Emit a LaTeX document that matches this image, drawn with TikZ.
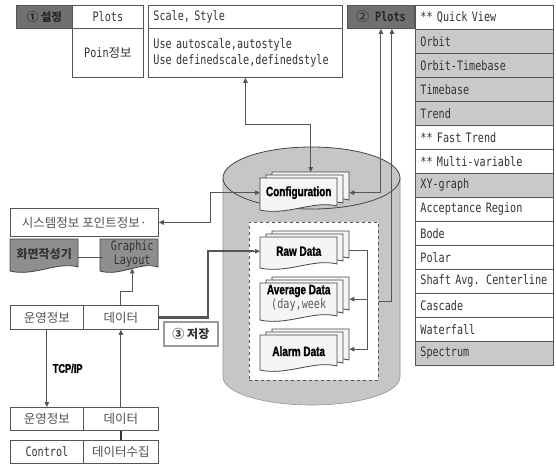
\documentclass[tikz,border=0pt]{standalone}
\usepackage{fontspec}
\setmainfont{DejaVu Sans}
\newfontfamily\kr{Noto Sans CJK KR}
\newfontfamily\monof{DejaVu Sans Mono}[FakeStretch=0.78]
\newfontfamily\headf{Liberation Sans}[FakeStretch=0.74,BoldFeatures={FakeBold=1.2}]
\usetikzlibrary{calc,arrows.meta}

\definecolor{ink}{HTML}{333333}
\definecolor{edge}{HTML}{555555}
\definecolor{darkcell}{HTML}{707070}
\definecolor{shade}{HTML}{C9C9C9}
\definecolor{cyl}{HTML}{C6C6C6}
\definecolor{docdark}{HTML}{8E8E8E}
\definecolor{paper}{HTML}{F5F5F5}

% rectangular cell from (x1,y1) to (x2,y2); options and text follow the call
\newcommand\boxat[5]{\node[cell,minimum width={(#4)-(#2)},minimum height={(#5)-(#3)},anchor=north west] (#1) at ({#2},{#3})}

% sheet with a wavy lower edge; the node stays open for options and text
\newcommand\sheet[6]{%
  \path[#6] ({#2},{#3}) -- ({(#2)+(#4)},{#3}) -- ({(#2)+(#4)},{(#3)+(#5)-5})
    .. controls ({(#2)+0.7*(#4)},{(#3)+(#5)-11}) and ({(#2)+0.35*(#4)},{(#3)+(#5)+5}) .. ({#2},{(#3)+(#5)-1}) -- cycle;
  \node[inner sep=0pt,minimum width={#4},minimum height={(#5)-4},anchor=north west,align=center] (#1) at ({#2},{#3})}

% three stacked sheets
\newcommand\docstack[5]{%
  \sheet{#1-b}{(#2)+12}{(#3)-6}{#4}{#5}{docsheet}{};
  \sheet{#1-m}{(#2)+6}{(#3)-3}{#4}{#5}{docsheet}{};
  \sheet{#1}{#2}{#3}{#4}{#5}{docsheet}}

\begin{document}
\begin{tikzpicture}[x=1pt,y=-1pt,
  >={Triangle[length=5pt,width=4.5pt]},
  cell/.style={draw=edge,line width=0.8pt,inner sep=0pt,fill=white,
    font=\monof\fontsize{13}{16}\selectfont,text=ink},
  darkc/.style={fill=darkcell},
  lefttext/.style={text width=#1,align=left,inner xsep=5pt},
  krtext/.style={font=\kr\fontsize{12.5}{14}\selectfont,text=ink!85},
  docsheet/.style={fill=paper,draw=edge!80!black,line width=0.8pt},
  docdarkfill/.style={fill=docdark,draw=edge!80!black,line width=0.8pt},
  doclabel/.style={font=\headf\bfseries\fontsize{13.5}{13.5}\selectfont,text=black},
  conn/.style={draw=edge,line width=1pt},
  thickconn/.style={draw=edge,line width=2.2pt},
  savebox/.style={draw=black!40,line width=1.8pt,fill=white,
    font=\kr\bfseries\fontsize{12}{14}\selectfont,text=ink}]

\useasboundingbox[fill=white] (0,0) rectangle (556,464);

% ---- settings table
\boxat{set}{16}{5}{72}{28}[darkc,font=\kr\bfseries\fontsize{11.5}{13}\selectfont,text=black!85]{① 설정};
\boxat{plotsh}{72}{5}{143}{28}{Plots};
\boxat{poin}{72}{28}{143}{77}{Poin{\kr\fontsize{12.5}{14}\selectfont 정보}};
\boxat{scale}{148}{5}{342}{28}[lefttext=184]{Scale, Style};
\boxat{vals}{148}{28}{342}{77}[lefttext=184]{Use autoscale,autostyle\\Use definedscale,definedstyle};

% ---- plot list
\boxat{plots}{347}{5}{414}{28}[darkc,font=\monof\bfseries\fontsize{13}{14}\selectfont,text=black!85]{{\kr\mdseries ②} Plots};
\foreach \t/\f [count=\i] in {{** Quick View}/white, Orbit/shade, Orbit-Timebase/shade,
    Timebase/shade, Trend/shade, {** Fast Trend}/white, {** Multi-variable}/white,
    XY-graph/shade, {Acceptance Region}/white, Bode/white, Polar/white,
    {Shaft Avg. Centerline}/white, Cascade/white, Waterfall/white, Spectrum/shade}
  {\boxat{row\i}{415}{5+24*(\i-1)}{553}{29+24*(\i-1)}[fill=\f,lefttext=128]{\t};}

% ---- database cylinder
\path[fill=cyl,draw=cyl!75!black,line width=0.6pt] (223,178) -- (223,377)
  .. controls (223,392.5) and (262.6,405) .. (311.5,405)
  .. controls (360.4,405) and (400,392.5) .. (400,377) -- (400,178) -- cycle;
\path[fill=cyl,draw=edge!80!black,line width=0.8pt] (311.5,178) ellipse [x radius=88.5,y radius=31];
\node[draw=edge,dashed,line width=0.8pt,fill=white,inner sep=0pt,
  minimum width=129,minimum height=158,anchor=north west] (store) at (249,222) {};

\docstack{conf}{260}{178}{77}{33}[doclabel]{Configuration};
\docstack{raw}{260}{237}{77}{32}[doclabel]{Raw Data};
\docstack{avg}{260}{283}{77}{38}[doclabel,yshift=2pt]{Average Data\\[1pt]{\monof\mdseries\fontsize{13}{13}\selectfont\color{ink!80}(day,week}};
\docstack{alarm}{260}{335}{77}{36}[doclabel]{Alarm Data};

% ---- left side blocks
\boxat{sys}{10}{208}{158}{236}[krtext]{시스템정보 포인트정보·};
\sheet{scr}{10}{239}{68}{33}{docdarkfill}[font=\kr\bfseries\fontsize{12}{14}\selectfont,text=ink]{화면작성기};
\sheet{glay}{100}{239}{58}{33}{docdarkfill}[font=\monof\fontsize{13}{14}\selectfont,text=ink,xshift=3pt]{Graphic\\Layout};

\boxat{op1}{10}{305}{83}{329}[krtext]{운영정보};
\boxat{data1}{83}{305}{158}{329}[krtext]{데이터};
\boxat{op2}{10}{407}{83}{430}[krtext]{운영정보};
\boxat{data2}{83}{407}{158}{430}[krtext]{데이터};
\boxat{ctrl}{10}{440}{83}{463}{Control};
\boxat{coll}{83}{440}{158}{463}[krtext]{데이터수집};
\boxat{save}{163}{321}{217}{345}[savebox]{③ 저장};

% ---- connectors
\draw[conn,<->] (vals.south) |- ($(conf-b.north)+(0,-48)$) -- (conf-b.north);
\draw[conn,<->] (plots.south) |- ($(conf-b.east)+(0,6)$);
\draw[conn,->] (store.east) -| ($(plots.south)+(11,0)$);
\draw[conn,->] ($(raw-b.east)+(0,5)$) -| ($(alarm-b.east)+(18,4)$) -- ($(alarm-b.east)+(0,4)$);
\draw[conn,->] ($(avg-b.east)+(18,5)$) -- ($(avg-b.east)+(0,5)$);
\draw[conn,<->] (sys.east) -| ($(conf.west)+(-50,0)$) -- (conf.west);
\draw[thickconn] (data1.east) -| ($(raw.west)+(-52,0)$) -- ($(raw.west)+(-6,0)$);
\draw[conn,->] ($(raw.west)+(-8,0)$) -- (raw.west);
\draw[conn] ($(scr.east)+(0,4)$) -- ($(glay.west)+(0,4)$);
\draw[conn,->] (data1.north) -- ++(0,-14) -| (glay.south);
\draw[conn,->] (op1.south) -- (op2.north)
  node[midway,right=2pt,font=\headf\bfseries\fontsize{12.5}{12.5}\selectfont,text=black] (tcp) {TCP/IP};
\draw[conn,->] (data2.north) -- (data1.south);
\draw[thickconn,draw=ink] (data2.south) -- (coll.north);
\end{tikzpicture}
\end{document}
